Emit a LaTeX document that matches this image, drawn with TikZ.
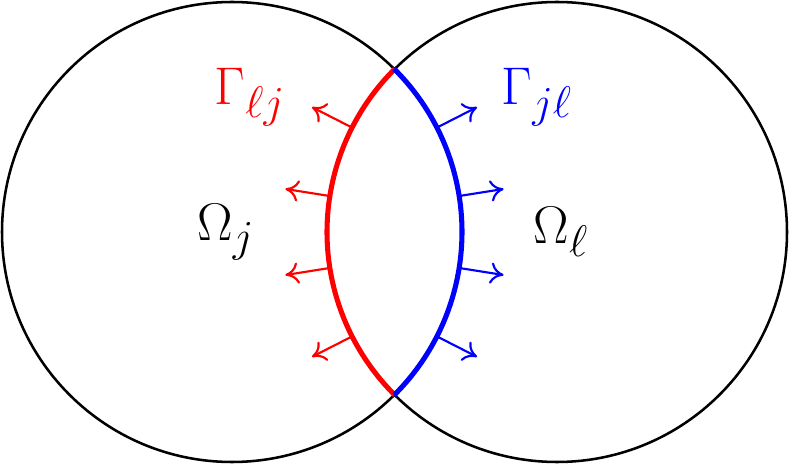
\documentclass[tikz,border=0pt]{standalone}
\usetikzlibrary{arrows.meta}
\begin{document}
\begin{tikzpicture}[x=0.75pt,y=0.75pt,
  circ/.style={line width=1.9pt,black},
  iface/.style={line width=3.8pt},
  nrm/.style={line width=1.6pt,-{To[length=10pt,width=16pt,line width=1.6pt]}},
  lbl/.style={font=\Huge,scale=1.6}]
\useasboundingbox (0,0) rectangle (789,464);
\coordinate (cL) at (232,232);
\coordinate (cR) at (557,232);
\draw[circ] (cL) circle (230);
\draw[circ] (cR) circle (230);
\draw[iface,red] ([shift={(134.8:230)}]cR) arc (134.8:225.2:230);
\draw[iface,blue] ([shift={(-45.2:230)}]cL) arc (-45.2:45.2:230);
\foreach \a in {153,171,189,207}
  \draw[nrm,red] ([shift={(\a:230)}]cR) -- ([shift={(\a:275)}]cR);
\foreach \a in {27,9,-9,-27}
  \draw[nrm,blue] ([shift={(\a:230)}]cL) -- ([shift={(\a:275)}]cL);
\node[lbl,red] (glj) at (250,367) {$\Gamma_{\ell j}$};
\node[lbl,blue] (gjl) at (537,367) {$\Gamma_{j\ell}$};
\node[lbl] (oj) at (226,232) {$\Omega_j$};
\node[lbl] (ol) at (561,232) {$\Omega_\ell$};
\end{tikzpicture}
\end{document}
